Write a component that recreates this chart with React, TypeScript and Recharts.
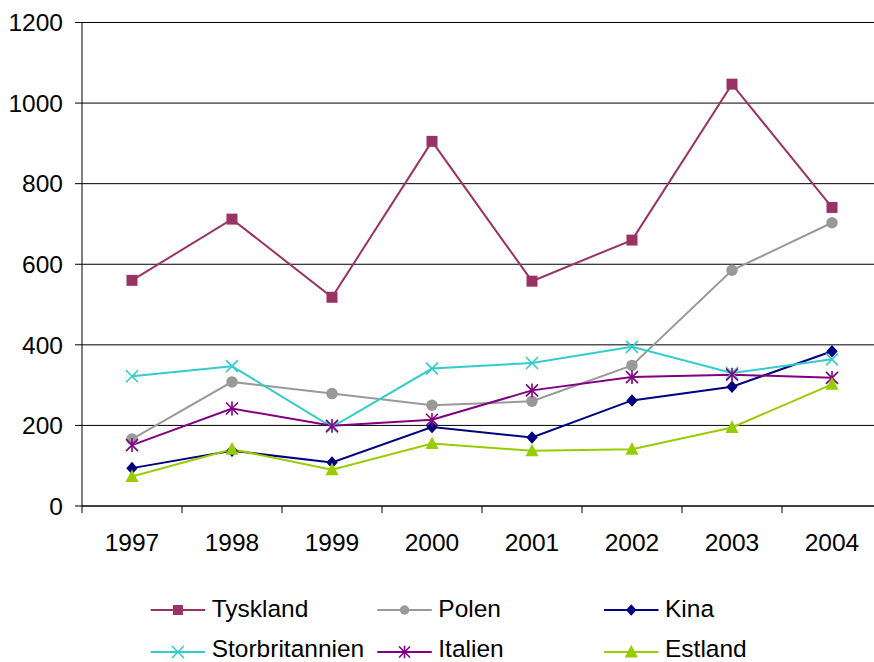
import React from 'react';
import { LineChart, Line, XAxis, YAxis, CartesianGrid, Legend } from 'recharts';

const years = ['1997', '1998', '1999', '2000', '2001', '2002', '2003', '2004'];
const tyskland = [560, 712, 518, 905, 558, 660, 1047, 741];
const polen = [166, 308, 279, 250, 260, 349, 585, 703];
const kina = [94, 137, 108, 196, 170, 262, 296, 384];
const storbritannien = [322, 347, 196, 341, 355, 395, 330, 364];
const italien = [151, 242, 199, 214, 287, 320, 326, 318];
const estland = [73, 141, 90, 155, 137, 141, 195, 302];
const yTicks = [0, 200, 400, 600, 800, 1000, 1200];

type Shape = 'square' | 'circle' | 'diamond' | 'x' | 'star' | 'triangle';

const series: { key: string; name: string; color: string; shape: Shape; values: number[] }[] = [
  { key: 'tyskland', name: 'Tyskland', color: '#993366', shape: 'square', values: tyskland },
  { key: 'polen', name: 'Polen', color: '#999999', shape: 'circle', values: polen },
  { key: 'kina', name: 'Kina', color: '#000080', shape: 'diamond', values: kina },
  { key: 'storbritannien', name: 'Storbritannien', color: '#33CCCC', shape: 'x', values: storbritannien },
  { key: 'italien', name: 'Italien', color: '#800080', shape: 'star', values: italien },
  { key: 'estland', name: 'Estland', color: '#99CC00', shape: 'triangle', values: estland },
];

const data = years.map((year, i) => {
  const row: Record<string, string | number> = { year };
  series.forEach((s) => {
    row[s.key] = s.values[i];
  });
  return row;
});

const FONT = '"Liberation Sans", Arial, sans-serif';
const FONT_SIZE = 24.5;
const CHART_W = 882;
const CHART_H = 662;
const Y_AXIS_W = 82;
const X_AXIS_H = 80;
const LEGEND_H = 76;
const BAND = (CHART_W - Y_AXIS_W) / years.length;
const TICK_LEN = 7;

function Marker({ shape, cx, cy, size, color }: { shape: Shape; cx: number; cy: number; size: number; color: string }) {
  const h = size / 2;
  switch (shape) {
    case 'square':
      return <rect x={cx - h} y={cy - h} width={size} height={size} fill={color} />;
    case 'circle':
      return <circle cx={cx} cy={cy} r={h} fill={color} />;
    case 'diamond':
      return (
        <polygon
          points={`${cx},${cy - h * 1.05} ${cx + h * 0.95},${cy} ${cx},${cy + h * 1.05} ${cx - h * 0.95},${cy}`}
          fill={color}
        />
      );
    case 'triangle':
      return (
        <polygon
          points={`${cx},${cy - h * 1.1} ${cx + h},${cy + h * 0.85} ${cx - h},${cy + h * 0.85}`}
          fill={color}
        />
      );
    case 'x':
      return (
        <g stroke={color} strokeWidth={1.6}>
          <line x1={cx - h} y1={cy - h} x2={cx + h} y2={cy + h} />
          <line x1={cx - h} y1={cy + h} x2={cx + h} y2={cy - h} />
        </g>
      );
    case 'star':
      return (
        <g stroke={color} strokeWidth={1.6}>
          <line x1={cx - h} y1={cy - h} x2={cx + h} y2={cy + h} />
          <line x1={cx - h} y1={cy + h} x2={cx + h} y2={cy - h} />
          <line x1={cx} y1={cy - h * 1.15} x2={cx} y2={cy + h * 1.15} />
        </g>
      );
    default:
      return null;
  }
}

const markerSize: Record<Shape, number> = {
  square: 11,
  circle: 11.5,
  diamond: 12,
  triangle: 13,
  x: 12,
  star: 12,
};

const legendMarkerSize: Record<Shape, number> = {
  square: 10,
  circle: 9.5,
  diamond: 11,
  triangle: 13,
  x: 12,
  star: 11,
};

function XTick(props: any) {
  const { x, y, payload } = props;
  return (
    <g>
      <line x1={x - BAND / 2} y1={y} x2={x - BAND / 2} y2={y + TICK_LEN} stroke="#000" strokeWidth={1} />
      <text
        x={x}
        y={y + TICK_LEN + 21}
        dy="0.71em"
        textAnchor="middle"
        fill="#000"
        fontFamily={FONT}
        fontSize={FONT_SIZE}
      >
        {payload.value}
      </text>
    </g>
  );
}

function LegendContent() {
  const colX = [150.7, 377.3, 604];
  const lineY = [24, 66];
  const textY = [30.7, 70.5];
  const lineLen = 54.5;
  return (
    <svg width={CHART_W} height={LEGEND_H} style={{ display: 'block', overflow: 'visible' }}>
      {series.map((s, i) => {
        const col = i % 3;
        const row = Math.floor(i / 3);
        const x0 = colX[col];
        const ly = lineY[row];
        return (
          <g key={s.key}>
            <line x1={x0} y1={ly} x2={x0 + lineLen} y2={ly} stroke={s.color} strokeWidth={2} />
            <Marker shape={s.shape} cx={x0 + lineLen / 2} cy={ly} size={legendMarkerSize[s.shape]} color={s.color} />
            <text x={x0 + lineLen + 6.5} y={textY[row]} fill="#000" fontFamily={FONT} fontSize={FONT_SIZE}>
              {s.name}
            </text>
          </g>
        );
      })}
    </svg>
  );
}

export default function App() {
  return (
    <div
      style={{
        position: 'absolute',
        left: 0,
        top: 0,
        width: 874,
        height: 662,
        overflow: 'hidden',
        background: '#fff',
      }}
    >
      <LineChart
        width={CHART_W}
        height={CHART_H}
        data={data}
        margin={{ top: 22.5, right: 0, bottom: 0, left: 0 }}
      >
        <CartesianGrid vertical={false} stroke="#000" strokeWidth={1} />
        <XAxis
          dataKey="year"
          height={X_AXIS_H}
          padding={{ left: BAND / 2, right: BAND / 2 }}
          axisLine={{ stroke: '#000', strokeWidth: 1 }}
          tickLine={false}
          tickSize={0}
          tickMargin={0}
          tick={<XTick />}
          interval={0}
        />
        <YAxis
          width={Y_AXIS_W}
          domain={[0, 1200]}
          ticks={yTicks}
          interval={0}
          axisLine={{ stroke: '#000', strokeWidth: 1 }}
          tickLine={{ stroke: '#000', strokeWidth: 1 }}
          tickSize={TICK_LEN}
          tickMargin={12}
          tick={{ fill: '#000', fontFamily: FONT, fontSize: FONT_SIZE }}
        />
        <Legend
          verticalAlign="bottom"
          content={<LegendContent />}
          wrapperStyle={{ left: 0, width: CHART_W, height: LEGEND_H }}
        />
        {series.map((s) => (
          <Line
            key={s.key}
            type="linear"
            dataKey={s.key}
            name={s.name}
            stroke={s.color}
            strokeWidth={2}
            isAnimationActive={false}
            dot={(p: any) => (
              <Marker
                key={`${s.key}-${p.index}`}
                shape={s.shape}
                cx={p.cx}
                cy={p.cy}
                size={markerSize[s.shape]}
                color={s.color}
              />
            )}
            activeDot={false}
          />
        ))}
      </LineChart>
    </div>
  );
}
